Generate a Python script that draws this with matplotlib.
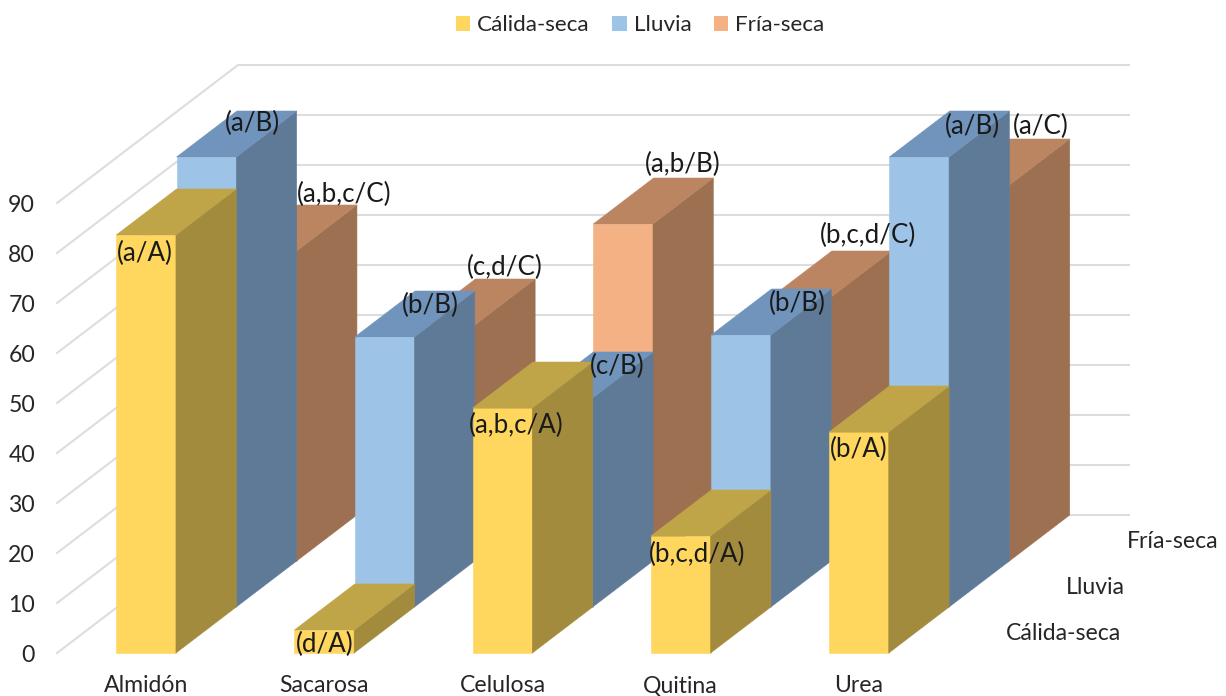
"""Clustered 3-D style column chart: substrate use per season, drawn with an oblique projection."""

import matplotlib
matplotlib.use("Agg")
import matplotlib.pyplot as plt
from matplotlib.patches import Patch, Polygon

plt.rcParams["font.family"] = ["Lato", "DejaVu Sans"]

substrates = ["Almidón", "Sacarosa", "Celulosa", "Quitina", "Urea"]
seasons = ["Cálida-seca", "Lluvia", "Fría-seca"]
y_ticks = [0, 10, 20, 30, 40, 50, 60, 70, 80, 90]

calida_seca = [83.6, 4.6, 49.0, 23.4, 44.2]
lluvia = [90.0, 54.0, 41.8, 54.4, 90.0]
fria_seca = [62.0, 47.2, 67.4, 52.8, 75.2]

calida_labels = ["(a/A)", "(d/A)", "(a,b,c/A)", "(b,c,d/A)", "(b/A)"]
lluvia_labels = ["(a/B)", "(b/B)", "(c/B)", "(b/B)", "(a/B)"]
fria_labels = ["(a,b,c/C)", "(c,d/C)", "(a,b/B)", "(b,c,d/C)", "(a/C)"]

# (front, top, side) shades per season
PALETTE = [
    ("#FFD65E", "#BFA448", "#A38B3E"),
    ("#9DC3E6", "#7094BC", "#5F7A96"),
    ("#F4B183", "#BC8562", "#9C7050"),
]
LEGEND_COLORS = ["#FFD65E", "#9DC3E6", "#F4B183"]

# label offsets from the top-front centre of each column, in pixels
CALIDA_NUDGE = [(-1, 17), (0, 13), (14, 16), (16, 17), (0, 16)]
LLUVIA_NUDGE = [(46, -35), (46, -33), (54, -33), (56, -33), (53, -32)]
FRIA_NUDGE = [(77, -58), (60, -59), (60, -61), (67, -63), (61, -60)]

# projection constants
FLOOR_X, FLOOR_Y = 57.0, 653.0
CAT_W = 178.2
DEPTH_DX, DEPTH_DY = 60.33, -46.0
PX_PER_UNIT = 5.0
BAR_W = 0.335  # fraction of a category
GRID = "#DDDDDD"
TEXT = "#262626"
FS_AXIS = 16.6
FS_LEGEND = 16.2
FS_VALUE = 18.6


def project(x, depth, value):
    """Map category position, depth slot and value to canvas coordinates."""
    return (FLOOR_X + x * CAT_W + depth * DEPTH_DX,
            FLOOR_Y + depth * DEPTH_DY - value * PX_PER_UNIT)


def draw_column(ax, cat, depth, value, shades):
    front, top, side = shades
    x0 = cat + 0.5 - BAR_W / 2
    x1 = cat + 0.5 + BAR_W / 2
    faces = [
        (front, [(x0, depth, 0), (x1, depth, 0), (x1, depth, value), (x0, depth, value)]),
        (side, [(x1, depth, 0), (x1, depth + 1, 0), (x1, depth + 1, value), (x1, depth, value)]),
        (top, [(x0, depth, value), (x1, depth, value), (x1, depth + 1, value), (x0, depth + 1, value)]),
    ]
    for color, corners in faces:
        ax.add_patch(Polygon([project(*c) for c in corners], closed=True,
                             facecolor=color, edgecolor=color, linewidth=0.4))


fig = plt.figure(figsize=(12.26, 6.96), dpi=100)
ax = fig.add_axes([0, 0, 1, 1])
ax.set_xlim(0, 1226)
ax.set_ylim(696, 0)
ax.axis("off")

# walls: back gridlines plus the slanted lines down the left side
for tick in y_ticks:
    left_x, left_y = project(0, 0, tick)
    back_x, back_y = project(0, 3, tick)
    end_x, _ = project(len(substrates), 3, tick)
    ax.plot([left_x, back_x, end_x], [left_y, back_y, back_y], color=GRID, lw=1.5, zorder=1,
            solid_joinstyle="miter")

# rear row first so nearer columns cover it
series = [calida_seca, lluvia, fria_seca]
for depth in (2, 1, 0):
    for cat, value in enumerate(series[depth]):
        draw_column(ax, cat, depth, value, PALETTE[depth])

all_labels = [calida_labels, lluvia_labels, fria_labels]
all_nudges = [CALIDA_NUDGE, LLUVIA_NUDGE, FRIA_NUDGE]
for depth in range(3):
    for cat, value in enumerate(series[depth]):
        px, py = project(cat + 0.5, depth, value)
        dx, dy = all_nudges[depth][cat]
        ax.text(px + dx, py + dy + 1, all_labels[depth][cat], ha="center", va="center",
                fontsize=FS_VALUE, color="#1A1A1A", zorder=10)

for tick in y_ticks:
    _, py = project(0, 0, tick)
    ax.text(35, py + 2, str(tick), ha="right", va="center", fontsize=FS_AXIS, color=TEXT)

for cat, name in enumerate(substrates):
    px, _ = project(cat + 0.5, 0, 0)
    ax.text(px, 686, name, ha="center", va="center", fontsize=FS_AXIS, color=TEXT)

for depth, name in enumerate(seasons):
    px, py = project(len(substrates), depth, 0)
    ax.text(px + 58, py - 20, name, ha="left", va="center", fontsize=FS_AXIS, color=TEXT)

handles = [Patch(facecolor=c, edgecolor="none", label=s) for c, s in zip(LEGEND_COLORS, seasons)]
ax.legend(handles=handles, ncol=3, frameon=False, loc="center",
          bbox_to_anchor=(640 / 1226, 1 - 25 / 696), fontsize=FS_LEGEND, labelcolor=TEXT,
          handlelength=0.65, handleheight=0.65, handletextpad=0.3, columnspacing=1.0,
          borderpad=0, borderaxespad=0)

fig.savefig("out.png", dpi=100)
